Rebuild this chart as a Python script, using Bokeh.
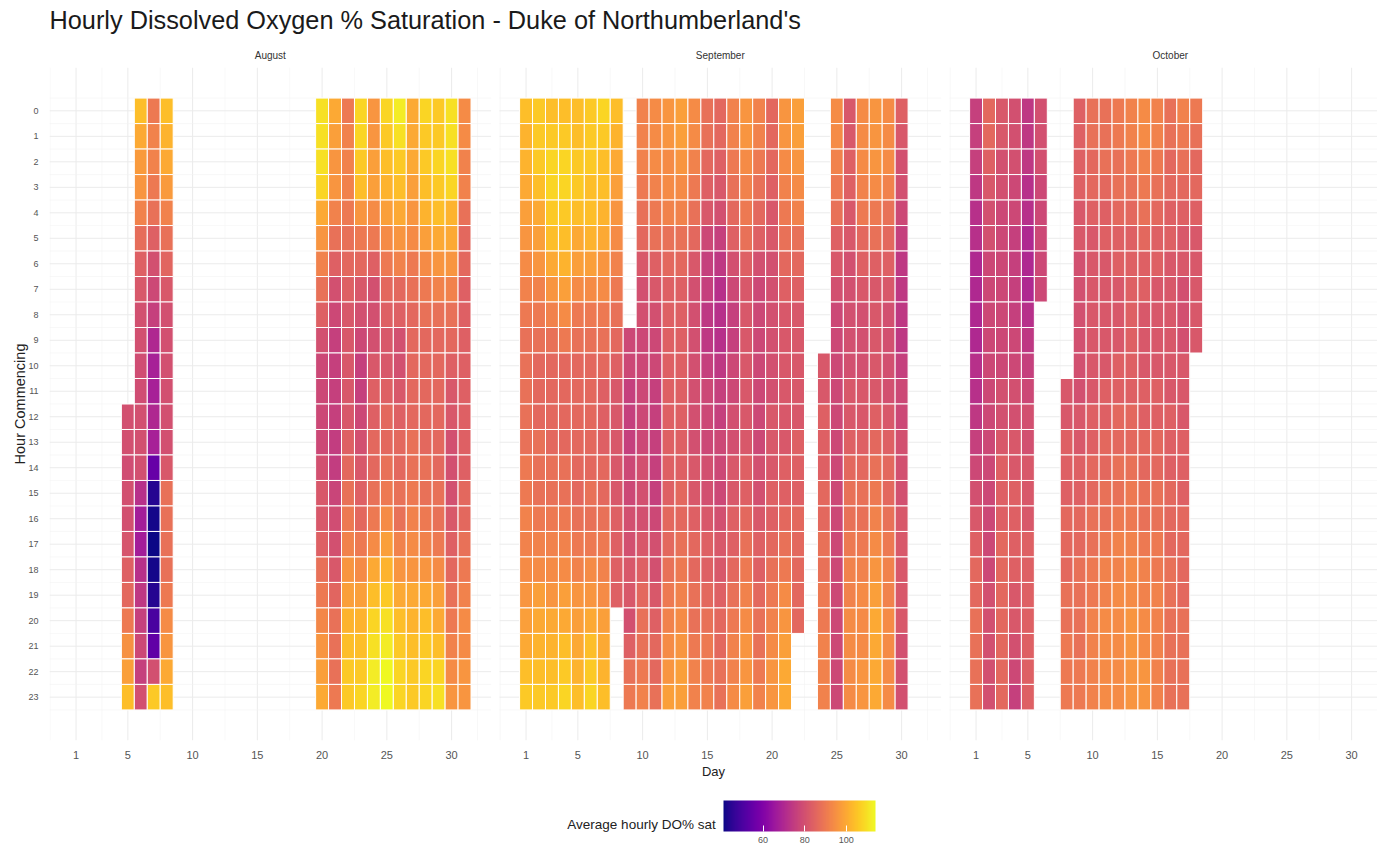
from bokeh.plotting import figure
from bokeh.models import (ColumnDataSource, LinearColorMapper, ColorBar, FixedTicker,
                          LinearAxis, Range1d, CustomJSTickFormatter)
from bokeh.transform import transform
from bokeh.palettes import Plasma256
from bokeh.embed import file_html
from bokeh.resources import INLINE

# ---------------------------------------------------------------- data
MONTHS = ["August", "September", "October"]
DAY_BREAKS = [1, 5, 10, 15, 20, 25, 30]
HOUR_BREAKS = list(range(24))
LEGEND_BREAKS = [60, 80, 100]
N = None

# average hourly DO % saturation, one list of 24 hours per day (None = no reading)
august = {
    5: [N] * 12 + [80, 80, 79, 80, 80, 81, 84, 86, 90, 95, 98, 104],
    6: [104, 100, 97, 96, 92, 87, 84, 82, 80, 80, 79, 79, 80, 80, 80, 72, 67, 67, 72, 74, 76, 78, 76, 80],
    7: [90, 92, 92, 90, 88, 84, 80, 78, 76, 70, 68, 68, 70, 68, 55, 44, 42, 41, 42, 44, 50, 54, 80, 106],
    8: [104, 102, 100, 97, 92, 88, 85, 82, 80, 80, 80, 80, 80, 80, 82, 88, 88, 88, 88, 90, 94, 96, 100, 104],
    20: [110, 110, 110, 108, 100, 96, 92, 88, 84, 80, 78, 78, 78, 78, 80, 82, 82, 84, 88, 90, 93, 96, 98, 100],
    21: [100, 98, 96, 96, 92, 88, 84, 80, 78, 76, 76, 76, 76, 75, 75, 77, 79, 80, 82, 85, 88, 88, 88, 90],
    22: [90, 92, 92, 92, 90, 88, 86, 84, 82, 82, 82, 82, 82, 84, 86, 88, 90, 92, 96, 98, 102, 104, 106, 106],
    23: [108, 108, 106, 104, 96, 90, 86, 82, 80, 78, 76, 76, 78, 80, 82, 84, 86, 90, 94, 98, 102, 104, 106, 108],
    24: [96, 96, 98, 98, 94, 90, 84, 80, 80, 80, 82, 84, 84, 86, 86, 88, 90, 94, 100, 104, 108, 110, 112, 112],
    25: [108, 106, 104, 102, 98, 94, 90, 86, 84, 82, 82, 84, 86, 86, 88, 90, 94, 98, 102, 106, 110, 112, 114, 114],
    26: [112, 110, 106, 104, 100, 96, 92, 86, 84, 80, 80, 82, 84, 86, 86, 88, 88, 92, 96, 100, 104, 106, 108, 108],
    27: [100, 100, 100, 98, 96, 94, 90, 88, 86, 86, 86, 86, 86, 88, 88, 90, 92, 94, 96, 100, 102, 104, 106, 106],
    28: [108, 106, 106, 104, 102, 98, 94, 90, 88, 86, 86, 86, 86, 86, 88, 88, 90, 92, 96, 100, 104, 106, 108, 108],
    29: [106, 106, 108, 106, 104, 100, 96, 92, 88, 86, 86, 86, 86, 86, 86, 88, 88, 90, 94, 98, 100, 104, 108, 110],
    30: [110, 110, 110, 108, 102, 100, 96, 92, 88, 86, 84, 82, 82, 80, 80, 80, 82, 84, 86, 88, 90, 92, 94, 96],
    31: [94, 94, 92, 92, 88, 86, 86, 84, 84, 84, 84, 84, 84, 84, 84, 86, 86, 88, 90, 92, 94, 94, 96, 96],
}

september = {
    1: [104, 102, 102, 100, 98, 96, 94, 92, 90, 88, 88, 88, 88, 88, 90, 90, 92, 92, 94, 96, 98, 100, 104, 106],
    2: [106, 106, 106, 104, 100, 98, 96, 92, 90, 88, 86, 86, 86, 88, 88, 88, 90, 92, 94, 98, 100, 102, 104, 106],
    3: [104, 106, 108, 108, 106, 104, 100, 96, 92, 88, 86, 86, 86, 86, 88, 88, 90, 92, 94, 96, 100, 102, 104, 106],
    4: [104, 106, 108, 108, 106, 104, 102, 98, 94, 90, 86, 86, 86, 86, 88, 88, 90, 92, 94, 98, 100, 104, 106, 108],
    5: [104, 104, 106, 106, 104, 100, 98, 94, 90, 88, 86, 86, 86, 86, 86, 86, 88, 90, 92, 96, 98, 100, 102, 104],
    6: [106, 106, 106, 104, 104, 102, 98, 94, 90, 88, 86, 86, 86, 86, 86, 88, 88, 90, 94, 96, 100, 104, 106, 108],
    7: [108, 106, 104, 104, 102, 100, 96, 94, 90, 88, 86, 84, 84, 84, 86, 86, 88, 90, 92, 94, 98, 100, 102, 104],
    8: [104, 102, 100, 98, 96, 94, 92, 90, 88, 86, 84, 82, 82, 82, 82, 82, 84, 84, 84, 84, N, N, N, N],
    9: [N] * 9 + [78, 78, 76, 76, 76, 78, 78, 80, 80, 82, 82, 80, 84, 88, 90],
    10: [92, 92, 92, 90, 88, 86, 82, 80, 80, 78, 78, 78, 78, 78, 80, 80, 80, 82, 84, 86, 88, 88, 90, 92],
    11: [94, 94, 94, 92, 90, 88, 84, 82, 80, 78, 78, 76, 76, 76, 76, 76, 78, 80, 80, 82, 84, 86, 86, 88],
    12: [96, 96, 94, 94, 92, 88, 86, 84, 84, 84, 84, 84, 84, 84, 84, 84, 86, 86, 88, 90, 92, 94, 96, 98],
    13: [98, 98, 96, 94, 92, 88, 86, 84, 84, 84, 84, 84, 84, 84, 84, 86, 86, 88, 90, 92, 94, 96, 98, 98],
    14: [94, 94, 92, 90, 88, 86, 82, 80, 80, 80, 80, 80, 80, 80, 82, 82, 84, 86, 86, 88, 88, 90, 92, 92],
    15: [88, 88, 86, 84, 82, 78, 76, 76, 74, 74, 76, 78, 78, 78, 80, 80, 82, 84, 84, 86, 88, 90, 90, 92],
    16: [86, 86, 84, 82, 80, 76, 74, 72, 72, 72, 74, 76, 76, 78, 78, 78, 80, 82, 82, 84, 86, 86, 88, 88],
    17: [92, 92, 90, 88, 86, 84, 80, 78, 76, 76, 78, 78, 80, 80, 82, 82, 84, 84, 86, 88, 90, 92, 92, 94],
    18: [96, 96, 94, 92, 90, 88, 84, 82, 82, 82, 82, 82, 82, 82, 84, 84, 86, 88, 90, 92, 94, 96, 96, 98],
    19: [92, 92, 90, 88, 86, 84, 80, 78, 78, 78, 78, 78, 78, 78, 80, 80, 82, 84, 84, 86, 88, 88, 90, 92],
    20: [86, 86, 86, 84, 82, 82, 80, 80, 80, 80, 80, 80, 82, 82, 82, 84, 84, 86, 88, 90, 92, 94, 96, 96],
    21: [96, 96, 94, 92, 90, 88, 86, 84, 82, 82, 82, 82, 82, 82, 84, 84, 86, 88, 90, 94, 96, 98, 100, 100],
    22: [98, 98, 96, 94, 92, 88, 86, 84, 82, 82, 82, 82, 82, 84, 84, 84, 86, 86, 86, 86, 86, N, N, N],
    24: [N] * 10 + [82, 82, 84, 84, 84, 86, 86, 88, 88, 90, 90, 92, 92, 92],
    25: [94, 94, 92, 90, 88, 84, 82, 80, 78, 78, 78, 78, 78, 78, 78, 78, 78, 78, 78, 78, 78, 78, 78, 78],
    26: [82, 82, 84, 84, 82, 82, 80, 80, 80, 80, 80, 82, 82, 84, 86, 88, 88, 90, 92, 92, 94, 94, 94, 94],
    27: [94, 94, 94, 92, 90, 86, 84, 82, 80, 80, 80, 82, 82, 84, 86, 88, 88, 90, 92, 94, 94, 94, 96, 96],
    28: [96, 96, 96, 94, 90, 88, 84, 82, 82, 82, 82, 82, 84, 86, 88, 90, 92, 94, 96, 98, 100, 100, 100, 100],
    29: [94, 94, 94, 92, 88, 86, 84, 82, 80, 80, 80, 80, 82, 84, 86, 86, 88, 90, 92, 92, 94, 94, 94, 94],
    30: [84, 82, 80, 80, 78, 76, 74, 74, 74, 74, 76, 78, 78, 80, 80, 80, 82, 82, 82, 82, 82, 80, 80, 80],
}

october = {
    1: [76, 76, 76, 74, 72, 72, 70, 70, 70, 70, 72, 72, 74, 76, 78, 80, 82, 84, 86, 86, 88, 88, 88, 88],
    2: [86, 86, 84, 82, 80, 80, 78, 78, 78, 78, 78, 78, 78, 78, 78, 78, 78, 78, 78, 80, 80, 80, 80, 80],
    3: [82, 82, 80, 80, 78, 78, 78, 78, 78, 78, 78, 80, 80, 82, 84, 84, 84, 86, 86, 86, 86, 86, 86, 86],
    4: [80, 80, 80, 78, 78, 76, 76, 76, 76, 78, 78, 80, 80, 82, 82, 84, 84, 84, 84, 82, 82, 80, 78, 76],
    5: [74, 74, 74, 72, 72, 70, 70, 70, 72, 74, 76, 78, 80, 80, 82, 82, 82, 84, 84, 84, 84, 84, 84, 84],
    6: [80, 80, 80, 78, 78, 78, 78, 78] + [N] * 16,
    8: [N] * 11 + [82, 82, 84, 84, 84, 86, 86, 86, 88, 88, 90, 90, 90],
    9: [84, 84, 84, 84, 82, 82, 80, 80, 80, 80, 80, 80, 82, 82, 84, 84, 86, 86, 88, 88, 88, 88, 90, 90],
    10: [88, 88, 86, 86, 84, 82, 82, 82, 82, 82, 82, 82, 84, 84, 86, 86, 88, 88, 90, 90, 92, 92, 92, 92],
    11: [88, 88, 88, 86, 84, 84, 82, 82, 82, 82, 82, 84, 84, 86, 86, 88, 88, 90, 92, 92, 94, 94, 94, 94],
    12: [90, 90, 88, 88, 86, 84, 84, 82, 82, 82, 84, 84, 86, 86, 88, 88, 90, 92, 92, 94, 94, 94, 94, 94],
    13: [92, 92, 90, 88, 86, 84, 84, 84, 84, 84, 84, 84, 86, 86, 88, 90, 90, 92, 94, 94, 96, 96, 96, 96],
    14: [94, 94, 92, 90, 88, 86, 84, 84, 82, 82, 82, 84, 84, 86, 86, 88, 88, 90, 92, 92, 94, 94, 96, 96],
    15: [92, 92, 90, 88, 86, 84, 84, 82, 82, 82, 82, 84, 84, 86, 86, 88, 88, 90, 90, 92, 92, 92, 92, 92],
    16: [88, 88, 86, 86, 84, 84, 82, 82, 82, 82, 82, 82, 84, 84, 84, 86, 86, 86, 88, 88, 88, 88, 88, 88],
    17: [92, 90, 88, 86, 84, 82, 82, 80, 80, 80, 82, 82, 82, 84, 84, 84, 86, 86, 86, 86, 88, 88, 88, 88],
    18: [90, 88, 86, 86, 84, 82, 82, 82, 82, 82] + [N] * 14,
}

# ---------------------------------------------------------------- facet geometry
W, H = 1377, 852
FRAME_LEFT, FRAME_TOP, FRAME_BOTTOM = 49, 67, 740
PX_PER_DAY = 12.95
X_LO, X_HI = -1.05, 33.05          # facet day range: tiles 0.5..31.5 plus 5% padding
Y_LO, Y_HI = -1.7, 24.7            # hour range: tiles -0.5..23.5 plus 5% padding
PANEL_STEP = 34.75                 # facet width plus the gap between facets, in days
X_END = X_LO + (W - FRAME_LEFT) / PX_PER_DAY
LEGEND_TITLE_CENTRE_PX = 641       # horizontal centre of the colour-legend title

MINOR_DAYS = [-1, 3, 7.5, 12.5, 17.5, 22.5, 27.5, 32]
MINOR_HOURS = [h + 0.5 for h in range(-1, 24)]

xs, ys, vals = [], [], []
for m, month in enumerate([august, september, october]):
    for day, series in month.items():
        for hour, v in enumerate(series):
            if v is not None:
                xs.append(day + m * PANEL_STEP)
                ys.append(hour)
                vals.append(v)

mapper = LinearColorMapper(palette=Plasma256, low=min(vals), high=max(vals))

p = figure(width=W, height=H, output_backend="svg", toolbar_location=None,
           x_range=Range1d(X_LO, X_END), y_range=Range1d(Y_HI, Y_LO),
           min_border_left=FRAME_LEFT, min_border_right=0,
           min_border_top=FRAME_TOP, min_border_bottom=H - FRAME_BOTTOM,
           background_fill_color="white", border_fill_color="white")
p.outline_line_color = None
p.grid.visible = False

# light facet grids, one panel at a time
gx0, gy0, gx1, gy1, gw, gc = [], [], [], [], [], []
for m in range(3):
    off = m * PANEL_STEP
    left, right = X_LO + off, X_HI + off
    for d, major in [(d, True) for d in DAY_BREAKS] + [(d, False) for d in MINOR_DAYS]:
        if X_LO <= d <= X_HI:
            gx0.append(d + off); gx1.append(d + off); gy0.append(Y_LO); gy1.append(Y_HI)
            gw.append(1.0 if major else 0.6); gc.append("#ebebeb" if major else "#f3f3f3")
    for h, major in [(h, True) for h in HOUR_BREAKS] + [(h, False) for h in MINOR_HOURS]:
        gx0.append(left); gx1.append(right); gy0.append(h); gy1.append(h)
        gw.append(1.0 if major else 0.6); gc.append("#ebebeb" if major else "#f3f3f3")
p.segment(x0="x0", y0="y0", x1="x1", y1="y1", line_width="w", line_color="c",
          source=ColumnDataSource(dict(x0=gx0, y0=gy0, x1=gx1, y1=gy1, w=gw, c=gc)))

# hourly tiles
p.rect(x="x", y="y", width=1, height=1, source=ColumnDataSource(dict(x=xs, y=ys, v=vals)),
       fill_color=transform("v", mapper), line_color="white", line_width=1)

FONT = "Liberation Sans"

# day axis, repeated per facet
xaxis = p.xaxis[0]
xaxis.ticker = FixedTicker(ticks=[d + m * PANEL_STEP for m in range(3) for d in DAY_BREAKS])
xaxis.formatter = CustomJSTickFormatter(args=dict(step=PANEL_STEP),
    code="return String(Math.round(tick - Math.floor((tick + 2) / step) * step));")
xaxis.axis_label = "Day"
xaxis.axis_label_text_font = FONT
xaxis.axis_label_text_font_style = "normal"
xaxis.axis_label_text_font_size = "13px"
xaxis.axis_label_text_color = "#222222"
xaxis.axis_label_standoff = 2
xaxis.major_label_text_font = FONT
xaxis.major_label_text_font_size = "11px"
xaxis.major_label_text_color = "#555555"
xaxis.major_label_standoff = 4

# hour axis
yaxis = p.yaxis[0]
yaxis.ticker = FixedTicker(ticks=HOUR_BREAKS)
yaxis.axis_label = "Hour Commencing"
yaxis.axis_label_text_font = FONT
yaxis.axis_label_text_font_style = "normal"
yaxis.axis_label_text_font_size = "14.5px"
yaxis.axis_label_text_color = "#222222"
yaxis.axis_label_standoff = -3
yaxis.major_label_text_font = FONT
yaxis.major_label_text_font_size = "9px"
yaxis.major_label_text_color = "#555555"
yaxis.major_label_standoff = 5

for ax in (xaxis, yaxis):
    ax.axis_line_color = None
    ax.major_tick_line_color = None
    ax.minor_tick_line_color = None

# facet strip labels (the blank axis label keeps some air between them and the title)
centre = (X_LO + X_HI) / 2
strip = LinearAxis(ticker=FixedTicker(ticks=[centre + m * PANEL_STEP for m in range(3)]),
                   formatter=CustomJSTickFormatter(args=dict(names=MONTHS, c=centre, step=PANEL_STEP),
                       code="return names[Math.round((tick - c) / step)];"),
                   axis_line_color=None, major_tick_line_color=None, minor_tick_line_color=None,
                   major_label_text_font=FONT, major_label_text_font_size="10px",
                   major_label_text_color="#333333", major_label_standoff=1,
                   axis_label=" ", axis_label_text_font_size="5px", axis_label_standoff=1)
p.add_layout(strip, "above")

p.title.text = "Hourly Dissolved Oxygen % Saturation - Duke of Northumberland's"
p.title.text_font = FONT
p.title.text_font_size = "25.3px"
p.title.text_font_style = "normal"
p.title.text_color = "#1a1a1a"
p.title.align = "left"
p.title.standoff = 6

# colour legend below the facets
bar = ColorBar(color_mapper=mapper, orientation="horizontal", width=152, height=31,
               location=(674, -105), padding=0, title=None,
               ticker=FixedTicker(ticks=LEGEND_BREAKS),
               major_label_text_font=FONT, major_label_text_font_size="9px",
               major_label_text_color="#555555",
               major_tick_line_color="white", major_tick_in=6, major_tick_out=0,
               minor_tick_line_color=None, bar_line_color=None,
               background_fill_alpha=0, border_line_color=None)
p.add_layout(bar, "center")

# colour legend title, to the left of the bar, carried by a label-only axis
legend_x = X_LO + (LEGEND_TITLE_CENTRE_PX - FRAME_LEFT) / PX_PER_DAY
legend_axis = LinearAxis(ticker=FixedTicker(ticks=[legend_x]),
                         formatter=CustomJSTickFormatter(args=dict(t="Average hourly DO% sat"),
                                                         code="return t;"),
                         axis_line_color=None, major_tick_line_color=None, minor_tick_line_color=None,
                         major_label_text_font=FONT, major_label_text_font_size="13.5px",
                         major_label_text_color="#222222", major_label_standoff=29)
p.add_layout(legend_axis, "below")

open("out.html", "w").write(file_html(p, INLINE))
